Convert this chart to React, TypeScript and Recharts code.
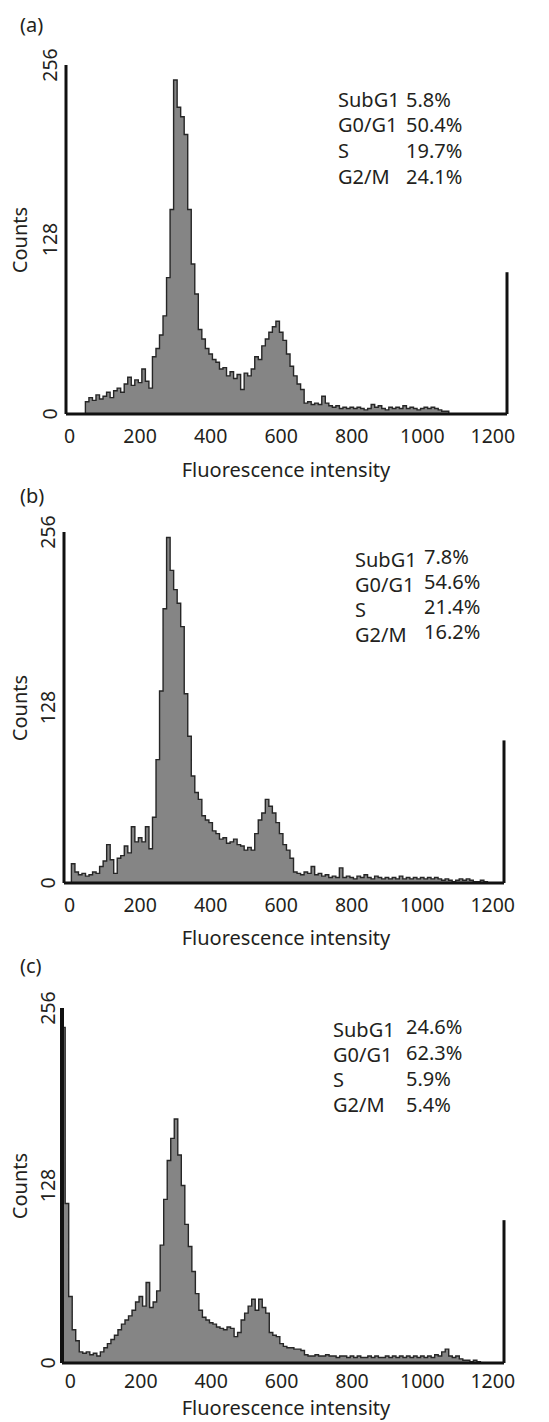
import { ComposedChart, Area, XAxis, YAxis, ReferenceLine } from 'recharts'

// channel width of the histogram bins
const BIN = 10
const xTicks = [0, 200, 400, 600, 800, 1000, 1200]
const yTicks = [0, 128, 256]

// (a) counts per bin, starting at channel 0
const countsA = [
  0, 0, 0, 0, 0, 9, 12, 10, 14, 11,
  13, 16, 12, 17, 19, 16, 22, 27, 21, 25,
  23, 33, 24, 19, 42, 48, 58, 72, 100, 150,
  245, 225, 218, 205, 150, 110, 88, 62, 55, 48,
  44, 40, 38, 33, 34, 28, 31, 26, 29, 18,
  30, 28, 33, 42, 40, 50, 55, 60, 64, 68,
  60, 54, 44, 35, 28, 22, 18, 8, 9, 7,
  8, 7, 13, 8, 6, 5, 6, 4, 5, 4,
  5, 4, 5, 4, 3, 4, 7, 5, 6, 4,
  3, 5, 4, 5, 4, 6, 4, 5, 4, 3,
  4, 5, 4, 5, 4, 3, 2, 2, 0, 0,
  0, 0, 0, 0, 0, 0, 0, 0, 0, 0,
  0, 0, 0, 0, 0,
]

// (b) counts per bin, starting at channel 0
const countsB = [
  0, 14, 8, 6, 7, 5, 6, 8, 7, 12,
  16, 28, 17, 7, 18, 20, 27, 22, 41, 30,
  33, 30, 41, 25, 48, 90, 140, 200, 252, 228,
  214, 204, 187, 138, 107, 78, 66, 61, 49, 46,
  44, 38, 36, 32, 33, 29, 30, 32, 28, 27,
  24, 26, 24, 36, 46, 51, 61, 56, 51, 44,
  36, 28, 24, 18, 8, 7, 6, 8, 7, 12,
  6, 7, 5, 6, 4, 5, 4, 11, 4, 5,
  4, 3, 5, 4, 6, 4, 3, 5, 4, 3,
  4, 3, 4, 3, 5, 3, 4, 3, 4, 3,
  4, 3, 4, 3, 4, 3, 2, 3, 2, 1,
  2, 3, 2, 3, 2, 1, 1, 2, 1, 0,
  0, 0, 0, 0, 0,
]

// (c) counts per bin, starting at channel -20
const countsC = [
  242, 115, 48, 24, 16, 8, 7, 8, 6, 7,
  5, 8, 11, 14, 17, 20, 24, 28, 31, 34,
  38, 44, 48, 41, 58, 40, 44, 52, 85, 118,
  146, 162, 176, 150, 128, 100, 84, 66, 50, 38,
  33, 31, 29, 28, 26, 25, 24, 26, 25, 19,
  22, 31, 36, 41, 46, 38, 46, 40, 36, 22,
  20, 19, 14, 12, 11, 11, 10, 10, 9, 6,
  5, 5, 6, 5, 5, 6, 5, 5, 4, 5,
  5, 4, 5, 4, 5, 4, 4, 5, 4, 5,
  4, 4, 5, 4, 5, 4, 5, 4, 5, 4,
  5, 4, 5, 4, 5, 4, 6, 5, 8, 10,
  5, 4, 5, 3, 2, 2, 1, 2, 1, 0,
  0, 0, 0, 0, 0,
]

const firstBin = [0, 0, -20]
// off-scale bin drawn at the right edge
const overflowCounts = [104, 104, 103]

const panelNames = ['(a)', '(b)', '(c)']
const phases = ['SubG1', 'G0/G1', 'S', 'G2/M']
const pctA = ['5.8%', '50.4%', '19.7%', '24.1%']
const pctB = ['7.8%', '54.6%', '21.4%', '16.2%']
const pctC = ['24.6%', '62.3%', '5.9%', '5.4%']

const FONT = '"Noto Sans", "Open Sans", sans-serif'
const INK = '#231f20'

const layouts = [
  {
    top: 0, height: 470, plotTop: 65, base: 414, left: 66, right: 507, axisW: 3,
    domain: [-10, 1240], yLabelX: 49, nameY: 26, tickY: 435, titleY: 470,
    labelX: 338, valueX: 406, labelY0: 100, labelStep: 25.7, valueY0: 100, valueStep: 25.7,
  },
  {
    top: 470, height: 470, plotTop: 532, base: 883, left: 64, right: 504, axisW: 3,
    domain: [-16, 1232], yLabelX: 47, nameY: 497, tickY: 904, titleY: 938,
    labelX: 355, valueX: 424, labelY0: 560, labelStep: 25, valueY0: 557, valueStep: 25.3,
  },
  {
    top: 940, height: 482, plotTop: 1008, base: 1363, left: 62, right: 504, axisW: 4,
    domain: [-24, 1232], yLabelX: 47, nameY: 967, tickY: 1380, titleY: 1408,
    labelX: 333, valueX: 406, labelY0: 1030, labelStep: 25.3, valueY0: 1027, valueStep: 26.3,
  },
]

const allCounts = [countsA, countsB, countsC]
const allPcts = [pctA, pctB, pctC]

const Txt = ({ x, y, size = 19, children }: any) => (
  <div
    style={{
      position: 'absolute', left: x, top: y - size * 0.55, fontSize: size,
      lineHeight: `${size}px`, whiteSpace: 'nowrap', color: INK, fontFamily: FONT,
    }}
  >
    {children}
  </div>
)

// one text block per column so the rows sit tight like the original
const Block = ({ x, y0, step, lines }: any) => (
  <div
    style={{
      position: 'absolute', left: x, top: y0 - 13.5, fontSize: 20,
      lineHeight: `${step}px`, whiteSpace: 'pre', color: INK, fontFamily: FONT,
    }}
  >
    {lines.join('\n')}
  </div>
)

function Panel({ idx }: { idx: number }) {
  const L = layouts[idx]
  const rows = allCounts[idx].map((count, i) => ({ x: firstBin[idx] + i * BIN, count }))
  const xMax = L.domain[1]
  const yAxisW = 30
  const xAxisH = 30
  const margin = {
    top: L.plotTop - L.top,
    right: 549 - L.right,
    bottom: L.height - (L.base - L.top) - xAxisH,
    left: L.left - yAxisW,
  }
  const tickBase = L.tickY - L.top

  const xTick = (p: any) => (
    <text x={p.x} y={tickBase} textAnchor="middle" dominantBaseline="central"
      fontSize={19.5} fill={INK} fontFamily={FONT}>
      {p.payload.value}
    </text>
  )
  const yTick = (p: any) => (
    <text x={L.yLabelX} y={p.y} textAnchor="middle" dominantBaseline="central"
      transform={`rotate(-90 ${L.yLabelX} ${p.y})`} fontSize={19.5} fill={INK} fontFamily={FONT}>
      {p.payload.value}
    </text>
  )

  return (
    <div style={{ position: 'absolute', left: 0, top: L.top, width: 549, height: L.height }}>
      <ComposedChart width={549} height={L.height} data={rows} margin={margin}>
        <XAxis
          type="number" dataKey="x" domain={L.domain} ticks={xTicks} interval={0}
          allowDataOverflow height={xAxisH} tickLine={false}
          axisLine={{ stroke: '#111', strokeWidth: 3 }} tick={xTick}
        />
        <YAxis
          type="number" domain={[0, 256]} ticks={yTicks} interval={0}
          allowDataOverflow width={yAxisW} tickLine={false}
          axisLine={{ stroke: '#111', strokeWidth: L.axisW }} tick={yTick}
        />
        <Area
          type="step" dataKey="count" stroke="#262626" strokeWidth={1.4}
          fill="#858585" fillOpacity={1} dot={false} activeDot={false}
          isAnimationActive={false}
        />
        <ReferenceLine
          segment={[{ x: xMax, y: 0 }, { x: xMax, y: overflowCounts[idx] }]}
          stroke="#111" strokeWidth={3}
        />
      </ComposedChart>
    </div>
  )
}

export default function App() {
  return (
    <div style={{ position: 'absolute', left: 0, top: 0, width: 549, height: 1422, background: '#fff' }}>
      {layouts.map((L, i) => (
        <Panel key={i} idx={i} />
      ))}
      {layouts.map((L, i) => (
        <div key={'t' + i}>
          <Txt x={20} y={L.nameY} size={20}>{panelNames[i]}</Txt>
          <div
            style={{
              position: 'absolute', left: 136, width: 300, top: L.titleY - 11,
              fontSize: 20, lineHeight: '22px', textAlign: 'center', color: INK, fontFamily: FONT,
            }}
          >
            Fluorescence intensity
          </div>
          <div
            style={{
              position: 'absolute', left: 20, top: (L.plotTop + L.base) / 2,
              transform: 'translate(-50%, -50%) rotate(-90deg)', fontSize: 20,
              whiteSpace: 'nowrap', color: INK, fontFamily: FONT, lineHeight: '22px',
            }}
          >
            Counts
          </div>
          <Block x={L.labelX} y0={L.labelY0} step={L.labelStep} lines={phases} />
          <Block x={L.valueX} y0={L.valueY0} step={L.valueStep} lines={allPcts[i]} />
        </div>
      ))}
    </div>
  )
}
